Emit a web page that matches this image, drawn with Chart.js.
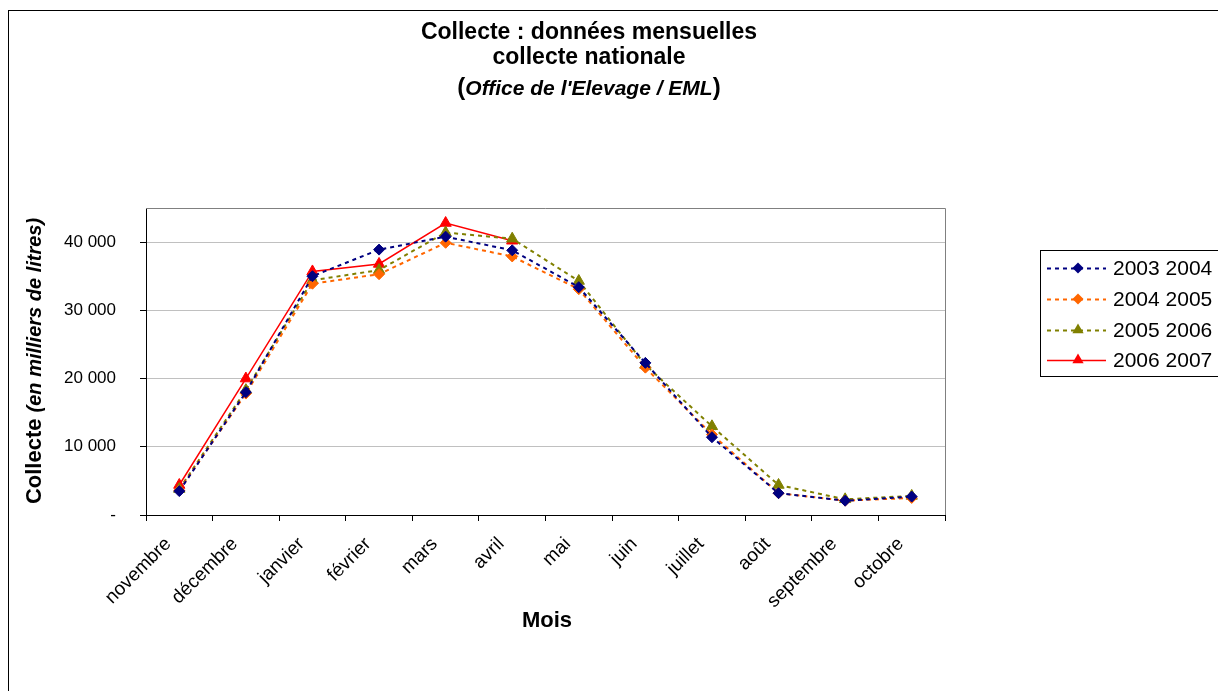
<!DOCTYPE html>
<html>
<head>
<meta charset="utf-8">
<script src="https://cdn.jsdelivr.net/npm/chart.js@4"></script>
<style>
body { margin: 0; background: #fff; }
canvas { display: block; }
</style>
</head>
<body>
<canvas id="chart" width="1218" height="691"></canvas>
<script>
// Data (milliers de litres)
const months = ['novembre', 'décembre', 'janvier', 'février', 'mars', 'avril', 'mai', 'juin', 'juillet', 'août', 'septembre', 'octobre'];
const yTicks = [0, 10000, 20000, 30000, 40000];
const seriesNames = ['2003 2004', '2004 2005', '2005 2006', '2006 2007'];
const collecte0304 = [3500, 18000, 35000, 38900, 40800, 38800, 33400, 22300, 11400, 3200, 2100, 2700];
const collecte0405 = [3600, 17800, 33900, 35300, 39900, 37900, 33100, 21600, 11800, 3200, 2100, 2500];
const collecte0506 = [3800, 18300, 34400, 35900, 41400, 40500, 34300, 22000, 13000, 4400, 2300, 2800];
const collecte0607 = [4400, 20000, 35700, 36800, 42800, 40200, null, null, null, null, null, null];

const FONT = "'Liberation Sans', Arial, sans-serif";

function formatThousands(v) {
    if (v === 0) return '-';
    return String(v).replace(/\B(?=(\d{3})+(?!\d))/g, ' ');
}

function makeSeries(label, data, color, dash, style, radius, width) {
    return {
        label: label,
        data: data,
        borderColor: color,
        backgroundColor: color,
        borderWidth: width,
        borderDash: dash,
        pointStyle: style,
        pointRadius: radius,
        pointBackgroundColor: color,
        pointBorderColor: color,
        pointBorderWidth: 1,
        tension: 0,
        fill: false
    };
}

// marker used in the legend box
function drawMarker(ctx, style, x, y, r) {
    ctx.beginPath();
    if (style === 'triangle') {
        ctx.moveTo(x, y - r);
        ctx.lineTo(x + r * 0.866, y + r * 0.5);
        ctx.lineTo(x - r * 0.866, y + r * 0.5);
    } else {
        ctx.moveTo(x, y - r);
        ctx.lineTo(x + r, y);
        ctx.lineTo(x, y + r);
        ctx.lineTo(x - r, y);
    }
    ctx.closePath();
    ctx.fill();
}

// draws mixed-font pieces of text one after the other, centred on cx
function drawParts(ctx, parts, cx, y) {
    let total = 0;
    parts.forEach(p => { ctx.font = p[1]; total += ctx.measureText(p[0]).width; });
    let x = cx - total / 2;
    ctx.textAlign = 'left';
    parts.forEach(p => {
        ctx.font = p[1];
        ctx.fillText(p[0], x, y);
        x += ctx.measureText(p[0]).width;
    });
}

const decorations = {
    id: 'decorations',
    afterDraw(chart) {
        const ctx = chart.ctx;
        const area = chart.chartArea;
        ctx.save();

        // outer frame
        ctx.strokeStyle = '#000';
        ctx.lineWidth = 1;
        ctx.strokeRect(8.5, 10.5, 1300, 800);

        // top and right edges of the plot
        ctx.strokeStyle = '#808080';
        ctx.beginPath();
        ctx.moveTo(area.left, Math.round(area.top) + 0.5);
        ctx.lineTo(Math.round(area.right) + 0.5, Math.round(area.top) + 0.5);
        ctx.lineTo(Math.round(area.right) + 0.5, area.bottom);
        ctx.stroke();

        // title
        ctx.fillStyle = '#000';
        ctx.textAlign = 'center';
        ctx.textBaseline = 'alphabetic';
        ctx.font = 'bold 23px ' + FONT;
        ctx.fillText('Collecte : données mensuelles', 589, 39);
        ctx.fillText('collecte nationale', 589, 64);
        drawParts(ctx, [
            ['(', 'bold 24px ' + FONT],
            ["Office de l'Elevage / EML", 'italic bold 21px ' + FONT],
            [')', 'bold 24px ' + FONT]
        ], 589, 95);

        // x axis title
        ctx.textAlign = 'center';
        ctx.textBaseline = 'middle';
        ctx.font = 'bold 22px ' + FONT;
        ctx.fillText('Mois', 547, 621);

        // y axis title
        ctx.save();
        ctx.translate(35, 361);
        ctx.rotate(-Math.PI / 2);
        drawParts(ctx, [
            ['Collecte ', 'bold 22px ' + FONT],
            ['(en milliers de litres)', 'italic bold 20px ' + FONT]
        ], 0, 0);
        ctx.restore();

        // legend
        ctx.strokeStyle = '#000';
        ctx.lineWidth = 1;
        ctx.strokeRect(1040.5, 250.5, 300, 126);
        const rows = [268, 299, 330, 360];
        ctx.font = '21px ' + FONT;
        ctx.textAlign = 'left';
        ctx.textBaseline = 'middle';
        chart.data.datasets.forEach((ds, i) => {
            const y = rows[i];
            ctx.strokeStyle = ds.borderColor;
            ctx.lineWidth = ds.borderWidth;
            ctx.setLineDash(ds.borderDash);
            ctx.beginPath();
            ctx.moveTo(1047, y + 0.5);
            ctx.lineTo(1106, y + 0.5);
            ctx.stroke();
            ctx.setLineDash([]);
            ctx.fillStyle = ds.borderColor;
            drawMarker(ctx, ds.pointStyle, 1078, y, ds.pointRadius);
            ctx.fillStyle = '#000';
            ctx.fillText(ds.label, 1113, y + 1);
        });

        ctx.restore();
    }
};

new Chart(document.getElementById('chart'), {
    type: 'line',
    data: {
        labels: months,
        datasets: [
            makeSeries(seriesNames[0], collecte0304, '#000080', [4, 4], 'rectRot', 5.5, 2),
            makeSeries(seriesNames[1], collecte0405, '#FF6600', [4, 4], 'rectRot', 5.5, 2),
            makeSeries(seriesNames[2], collecte0506, '#808000', [4, 4], 'triangle', 6.5, 2),
            makeSeries(seriesNames[3], collecte0607, '#FF0000', [], 'triangle', 6.5, 1.5)
        ]
    },
    options: {
        responsive: false,
        animation: false,
        layout: { padding: { top: 208, right: 273, bottom: 0, left: 0 } },
        plugins: {
            legend: { display: false },
            title: { display: false },
            tooltip: { enabled: false }
        },
        scales: {
            x: {
                offset: true,
                afterFit(scale) { scale.height = 176; },
                grid: { offset: true, drawOnChartArea: false, tickLength: 6, tickColor: '#000' },
                border: { color: '#000', width: 1 },
                ticks: {
                    autoSkip: false,
                    minRotation: 45,
                    maxRotation: 45,
                    padding: 12,
                    labelOffset: -11,
                    color: '#000',
                    font: { family: FONT, size: 19 }
                }
            },
            y: {
                min: 0,
                max: 45000,
                afterFit(scale) { scale.width = 146; },
                afterBuildTicks(scale) { scale.ticks = yTicks.map(v => ({ value: v })); },
                grid: { color: '#c0c0c0', tickLength: 6, tickColor: '#000' },
                border: { color: '#000', width: 1 },
                ticks: {
                    padding: 24,
                    color: '#000',
                    font: { family: FONT, size: 17 },
                    callback: v => formatThousands(v)
                }
            }
        }
    },
    plugins: [decorations]
});
</script>
</body>
</html>
